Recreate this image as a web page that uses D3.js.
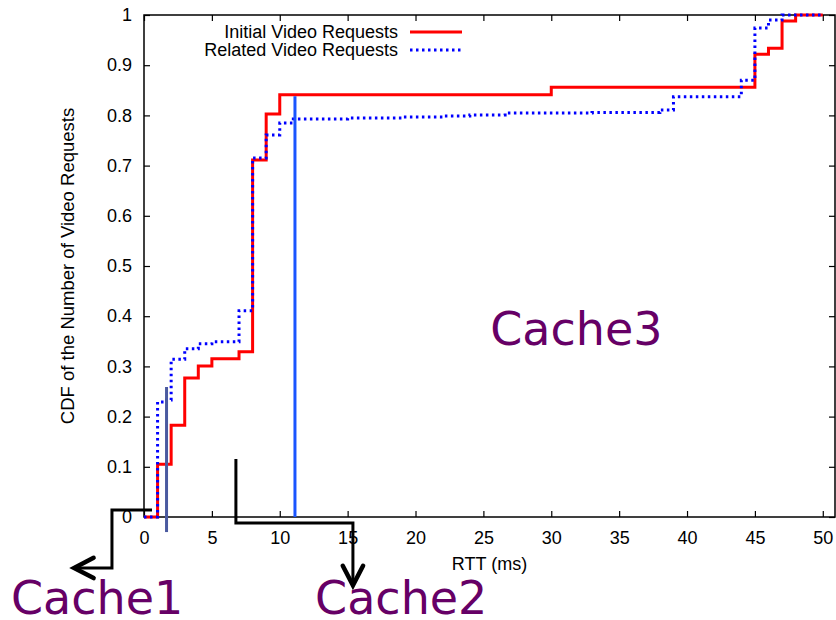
<!DOCTYPE html>
<html>
<head>
<meta charset="utf-8">
<script src="https://cdn.jsdelivr.net/npm/d3@7"></script>
<style>
  html, body { margin: 0; padding: 0; background: #fff; }
  svg { display: block; }
  text { font-family: "Liberation Sans", Arial, Helvetica, sans-serif; fill: #000; }
  .cache { font-family: "DejaVu Sans", sans-serif; fill: #660066; }
</style>
</head>
<body>
<svg id="chart" width="836" height="620"></svg>
<script>
// RTT (ms) at which each CDF step occurs, and the CDF level reached there
const initialRtt = [0, 1, 2, 3, 4, 5, 7, 8, 9, 10, 30, 45, 46, 47, 48, 50];
const initialCdf = [0, 0.105, 0.183, 0.277, 0.301, 0.315, 0.329, 0.711, 0.803, 0.841, 0.856, 0.922, 0.934, 0.988, 1.0, 1.0];

const relatedRtt = [0, 1, 1.5, 2, 3, 4, 5, 7, 8, 9, 10, 11, 15, 19, 22, 24, 26.6, 33, 38, 39, 44, 45, 46, 47, 50];
const relatedCdf = [0, 0.229, 0.233, 0.314, 0.335, 0.345, 0.349, 0.411, 0.715, 0.761, 0.785, 0.793, 0.795, 0.797, 0.799, 0.801, 0.805, 0.806, 0.811, 0.837, 0.870, 0.974, 0.990, 1.0, 1.0];

const seriesNames = ["Initial Video Requests", "Related Video Requests"];

const xTickValues = [0, 5, 10, 15, 20, 25, 30, 35, 40, 45, 50];
const yTickValues = [0, 0.1, 0.2, 0.3, 0.4, 0.5, 0.6, 0.7, 0.8, 0.9, 1];

// Cache boundary markers (RTT, CDF extent)
const markerRtt = [1.66, 11.12];
const markerLow = [-0.03, 0];
const markerHigh = [0.259, 0.838];

// Callout paths in data units (RTT, CDF) leading to each cache label
const cache1Path = [[0.59, 0.014], [-2.36, 0.014], [-2.36, -0.1015], [-5.15, -0.1015]];
const cache2Path = [[6.77, 0.1155], [6.77, -0.012], [15.39, -0.012], [15.39, -0.136]];
const cacheNames = ["Cache1", "Cache2", "Cache3"];
const cacheLabelAt = [[-9.8, -0.193], [12.6, -0.193], [25.5, 0.343]];

const svg = d3.select("#chart");

const x = d3.scaleLinear().domain([0, 50.9]).range([144, 835]);
const y = d3.scaleLinear().domain([0, 1]).range([517, 15]);

const toPts = (xs, ys) => xs.map((v, i) => [v, ys[i]]);
const initial = toPts(initialRtt, initialCdf);
const related = toPts(relatedRtt, relatedCdf);

// Frame with inward ticks on all four sides
const frame = svg.append("g");
frame.append("rect")
  .attr("x", x(0)).attr("y", y(1))
  .attr("width", x(50.9) - x(0)).attr("height", y(0) - y(1))
  .attr("fill", "none").attr("stroke", "#000").attr("stroke-width", 1.5);

const xAxisBottom = d3.axisBottom(x).tickValues(xTickValues).tickSize(-6).tickPadding(14).tickFormat(d3.format("d"));
const xAxisTop = d3.axisTop(x).tickValues(xTickValues).tickSize(-6).tickFormat("");
const yAxisLeft = d3.axisLeft(y).tickValues(yTickValues).tickSize(-6).tickPadding(12).tickFormat(d => d === 0 || d === 1 ? d3.format("d")(d) : d3.format(".1f")(d));
const yAxisRight = d3.axisRight(y).tickValues(yTickValues).tickSize(-6).tickFormat("");

function styleAxis(g) {
  g.select(".domain").remove();
  g.selectAll(".tick line").attr("stroke", "#000").attr("stroke-width", 1.2);
  g.selectAll(".tick text").attr("font-size", 18).attr("font-family", "Liberation Sans, Arial, sans-serif").attr("fill", "#000");
}

svg.append("g").attr("transform", `translate(0,${y(0)})`).call(xAxisBottom).call(styleAxis);
svg.append("g").attr("transform", `translate(0,${y(1)})`).call(xAxisTop).call(styleAxis);
svg.append("g").attr("transform", `translate(${x(0)},0)`).call(yAxisLeft).call(styleAxis);
svg.append("g").attr("transform", `translate(${x(50.9)},0)`).call(yAxisRight).call(styleAxis);

// Axis titles
svg.append("text")
  .attr("x", (x(0) + x(50.9)) / 2).attr("y", 570)
  .attr("text-anchor", "middle").attr("font-size", 18)
  .text("RTT (ms)");
svg.append("text")
  .attr("transform", `translate(73.5,${(y(0) + y(1)) / 2}) rotate(-90)`)
  .attr("text-anchor", "middle").attr("font-size", 18.5)
  .text("CDF of the Number of Video Requests");

// CDF step curves
const stepLine = d3.line().x(d => x(d[0])).y(d => y(d[1])).curve(d3.curveStepAfter);

svg.append("path").datum(initial)
  .attr("d", stepLine).attr("fill", "none")
  .attr("stroke", "#ff0000").attr("stroke-width", 3);

svg.append("path").datum(related)
  .attr("d", stepLine).attr("fill", "none")
  .attr("stroke", "#0000ff").attr("stroke-width", 3)
  .attr("stroke-dasharray", "2.5,3.5");

// Cache boundary markers
const markerColors = ["#4a5aa0", "#1a55ff"];
markerRtt.forEach((r, i) => {
  svg.append("line")
    .attr("x1", x(r)).attr("x2", x(r))
    .attr("y1", y(markerLow[i])).attr("y2", y(markerHigh[i]))
    .attr("stroke", markerColors[i]).attr("stroke-width", 3);
});

// Legend
const legendRows = [
  { name: seriesNames[0], color: "#ff0000", dash: null },
  { name: seriesNames[1], color: "#0000ff", dash: "2.5,3.5" }
];
legendRows.forEach((row, i) => {
  const base = 38 + i * 18;
  svg.append("text")
    .attr("x", 398).attr("y", base)
    .attr("text-anchor", "end").attr("font-size", 18)
    .text(row.name);
  svg.append("line")
    .attr("x1", 410).attr("x2", 462)
    .attr("y1", base - 6).attr("y2", base - 6)
    .attr("stroke", row.color).attr("stroke-width", 3)
    .attr("stroke-dasharray", row.dash);
});

// Callout arrows
function callout(points) {
  const px = points.map(p => [x(p[0]), y(p[1])]);
  svg.append("path")
    .attr("d", d3.line()(px))
    .attr("fill", "none").attr("stroke", "#000").attr("stroke-width", 3)
    .attr("stroke-linejoin", "miter");
  const tip = px[px.length - 1];
  const prev = px[px.length - 2];
  const ang = Math.atan2(prev[1] - tip[1], prev[0] - tip[0]);
  const len = 22, spread = 0.48;
  const w1 = [tip[0] + len * Math.cos(ang + spread), tip[1] + len * Math.sin(ang + spread)];
  const w2 = [tip[0] + len * Math.cos(ang - spread), tip[1] + len * Math.sin(ang - spread)];
  svg.append("path")
    .attr("d", d3.line()([w1, tip, w2]))
    .attr("fill", "none").attr("stroke", "#000").attr("stroke-width", 4.5)
    .attr("stroke-linejoin", "miter").attr("stroke-linecap", "round");
}
callout(cache1Path);
callout(cache2Path);

// Cache labels
cacheNames.forEach((name, i) => {
  svg.append("text")
    .attr("class", "cache")
    .attr("x", x(cacheLabelAt[i][0])).attr("y", y(cacheLabelAt[i][1]))
    .attr("font-size", 46)
    .text(name);
});
</script>
</body>
</html>
